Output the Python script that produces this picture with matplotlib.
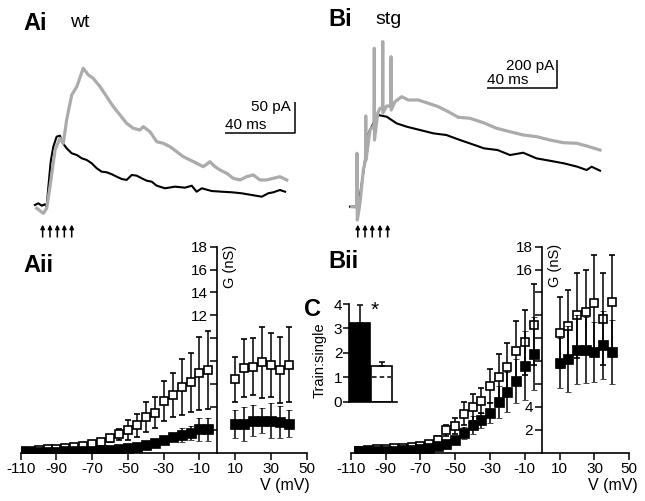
import numpy as np
import matplotlib
matplotlib.use('Agg')
import matplotlib.pyplot as plt

plt.rcParams['font.family'] = ['Liberation Sans', 'DejaVu Sans']

# ---------------- traces (ms, pA) ----------------
# Ai, wt : single stimulus (black) and train (grey)
ai_single_t = [-0.6, 1.3, 3.3, 5.1, 6.1, 7.0, 8.4, 9.9, 11.8, 13.7, 15.0, 17.5, 20.4, 23.3, 26.1,
               29.0, 31.8, 34.7, 37.5, 40.4, 43.3, 46.1, 49.0, 51.8, 54.7, 57.5, 60.4, 63.3, 66.1,
               69.0, 73.7, 79.4, 85.1, 89.0, 91.8, 94.7, 100.4, 106.1, 111.8, 117.5, 123.3, 129.0,
               132.7, 135.6, 139.4, 142.3]
ai_single_i = [0, 2.7, -1.1, 1.1, -2.7, 26.4, 68.5, 92.2, 108.1, 109.6, 99.2, 89.7, 81.8, 79.1, 73.9,
               71.2, 66.0, 58.1, 52.7, 51.7, 48.6, 44.8, 41.1, 39.6, 47.5, 46.4, 42.2, 38.4, 36.9,
               30.5, 26.4, 29.0, 27.4, 30.5, 21.0, 26.4, 22.1, 21.0, 20.1, 18.5, 15.8, 13.1,
               18.5, 20.1, 23.7, 21.0]
ai_train_t = [0.4, 4.2, 6.1, 8.0, 10.9, 13.7, 15.6, 17.5, 20.4, 23.3, 27.0, 29.9, 32.7, 36.6, 40.4,
              44.2, 48.0, 51.8, 55.6, 59.4, 61.3, 65.1, 69.0, 72.7, 76.6, 80.4, 84.2, 88.0, 91.8,
              95.6, 99.4, 102.3, 105.1, 109.0, 112.7, 116.6, 120.4, 124.2, 128.0, 131.8, 135.6,
              139.4, 143.3]
ai_train_i = [-5.2, -13.1, -5.2, 29.0, 87.0, 105.5, 97.6, 134.5, 174.0, 187.1, 216.3, 205.7, 200.4,
              187.1, 171.3, 155.5, 142.4, 129.2, 121.3, 118.7, 123.9, 116.0, 100.1, 97.6, 92.2,
              84.3, 76.4, 71.2, 66.0, 60.6, 68.5, 60.6, 55.4, 50.1, 42.2, 39.6, 44.8, 47.5, 39.6,
              39.6, 42.2, 44.8, 39.6]
ai_stim = [3.8, 8.0, 12.2, 16.2, 20.4]

# Bi, stg
bi_single_t = [0, 4.7, 7.5, 10.4, 13.2, 16.0, 20.8, 26.4, 32.1, 39.6, 47.2, 54.6, 62.3, 67.9, 75.9,
               83.6, 90.6, 98.1, 105.6, 113.3, 121.2, 128.7, 134.0, 136.8, 141.6]
bi_single_i = [0, 0, 238, 523.7, 595, 654.5, 642.3, 595, 571.2, 547.6, 523.7, 511.7, 476.0, 451.9,
               416.6, 404.5, 368.8, 385.3, 345.1, 327.9, 309.3, 285.6, 261.8, 285.6, 257.0]
bi_train_t = [0.96, 3.79, 3.96, 4.13, 5.66, 7.53, 8.78, 8.89, 9.06, 11.33, 13.65, 13.76, 13.87, 15.69,
              16.99, 18.40, 18.52, 18.63, 20.78, 23.10, 23.22, 23.33, 25.48, 29.28, 33.01, 38.68,
              44.34, 50.0, 55.66, 61.33, 67.95, 75.48, 83.07, 90.6, 98.13, 105.72, 113.25, 120.78,
              128.37, 134.03, 141.56]
bi_train_i = [0, -2.1, 381.3, -95.0, 24.3, 262.0, 333.4, 647.6, 333.4, 547.6, 583.3, 1131.0, 476.2,
              666.9, 702.6, 704.7, 1178.1, 669.0, 719.0, 719.0, 1071.0, 690.4, 749.7, 785.4, 761.8,
              761.8, 738.3, 714.0, 678.3, 638.3, 631.2, 599.8, 559.8, 535.5, 511.9, 499.8, 476.0,
              457.0, 452.7, 433.4, 404.8]
bi_stim = [4.4, 8.5, 12.6, 17.0, 21.3]

# ---------------- G-V data (mV, nS) ----------------
aii_v = [-110, -105, -100, -95, -90, -85, -80, -75, -70, -65, -60, -55, -50, -45, -40, -35, -30,
         -25, -20, -15, -10, -5, 10, 15, 20, 25, 30, 35, 40]
aii_train = [0.15, 0.18, 0.22, 0.28, 0.33, 0.4, 0.47, 0.58, 0.75, 0.96, 1.25, 1.6, 2.0, 2.4, 3.1,
             3.5, 4.55, 5.05, 5.75, 6.15, 6.95, 7.2, 6.4, 7.4, 7.5, 7.9, 7.7, 7.2, 7.7]
aii_train_err = [0, 0, 0, 0, 0.05, 0.05, 0.1, 0.1, 0.15, 0.2, 0.3, 0.5, 0.85, 1.0, 1.3, 1.35, 1.75,
                 1.9, 2.45, 2.55, 3.2, 3.4, 2.0, 2.5, 2.5, 3.1, 2.8, 2.9, 3.3]
aii_single = [0.08, 0.08, 0.09, 0.1, 0.1, 0.11, 0.12, 0.14, 0.17, 0.2, 0.24, 0.28, 0.37, 0.51, 0.66,
              0.87, 1.1, 1.35, 1.55, 1.7, 2.05, 2.05, 2.5, 2.5, 2.8, 2.8, 2.8, 2.7, 2.55]
aii_single_err = [0, 0, 0, 0, 0, 0, 0, 0, 0, 0, 0, 0, 0, 0, 0.1, 0.15, 0.25, 0.35, 0.6, 0.6, 1.0,
                  1.0, 1.25, 1.45, 1.35, 1.1, 1.5, 1.4, 1.15]

bii_v = [-105, -100, -95, -90, -85, -80, -75, -70, -65, -60, -55, -50, -45, -40, -35, -30, -25,
         -20, -15, -10, -5, 10, 15, 20, 25, 30, 35, 40]
bii_train = [0.17, 0.23, 0.29, 0.32, 0.38, 0.44, 0.47, 0.58, 0.73, 1.15, 1.95, 2.3, 3.4, 3.95, 4.55,
             5.85, 6.6, 7.5, 8.9, 9.65, 11.2, 10.5, 11.1, 12.0, 12.3, 13.1, 11.7, 13.2]
bii_train_err = [0, 0, 0, 0, 0, 0, 0, 0, 0.1, 0.3, 0.45, 0.7, 1.0, 1.2, 1.1, 1.5, 2.0, 2.1, 2.65,
                 2.85, 3.5, 3.1, 3.1, 3.7, 3.7, 4.2, 4.0, 4.1]
bii_single = [0.12, 0.12, 0.12, 0.15, 0.17, 0.2, 0.23, 0.29, 0.38, 0.58, 0.8, 1.15, 1.72, 2.4, 2.85,
              3.5, 4.4, 5.3, 6.25, 7.6, 8.65, 7.85, 8.2, 9.0, 8.95, 8.8, 9.4, 8.8]
bii_single_err = [0, 0, 0, 0, 0, 0, 0, 0, 0.05, 0.1, 0.2, 0.3, 0.5, 0.8, 0.65, 0.9, 1.4, 1.75, 1.9,
                  3.0, 3.2, 2.2, 2.9, 3.0, 2.9, 2.6, 3.0, 2.8]

# C inset: train/single ratio
c_groups = ['wt', 'stg']
c_ratio = [3.22, 1.46]
c_err = [0.72, 0.18]

W, H = 645, 501
fig = plt.figure(figsize=(W / 100, H / 100), dpi=100)


def box(x0, y0, x1, y1):
    # pixel box (top-left origin) -> figure fraction
    return [x0 / W, 1 - y1 / H, (x1 - x0) / W, (y1 - y0) / H]


def ftext(x, y, s, **kw):
    fig.text(x / W, 1 - y / H, s, **kw)


########## traces ##########
def trace_panel(rect, xlim, ylim, t1, i1, t2, i2, stim, arrow_y, bar):
    ax = fig.add_axes(rect)
    ax.plot(t1, i1, color='black', lw=1.5, zorder=2)
    ax.plot(t2, i2, color='#ababab', lw=2.3, zorder=3)
    ax.set_xlim(*xlim)
    ax.set_ylim(*ylim)
    ax.axis('off')
    for s in stim:
        ax.annotate('', xy=(s, arrow_y[1]), xytext=(s, arrow_y[0]), annotation_clip=False,
                    arrowprops=dict(arrowstyle='-|>', color='black', lw=1.1,
                                    mutation_scale=6, shrinkA=0, shrinkB=0))
    bx, by, bw, bh = bar
    ax.plot([bx, bx + bw, bx + bw], [by, by, by + bh], color='black', lw=1.1,
            solid_capstyle='butt')
    return ax


trace_panel(box(20, 40, 310, 240), (-9.14, 156.57), (-55.4, 261.0),
            ai_single_t, ai_single_i, ai_train_t, ai_train_i, ai_stim, (-50.6, -31.0),
            (108, 113.4, 40, 50))
trace_panel(box(330, 30, 620, 240), (-11.33, 152.89), (-237.8, 1261.6),
            bi_single_t, bi_single_i, bi_train_t, bi_train_i, bi_stim, (-216, -128),
            (77.4, 847.5, 40, 200))

ftext(291, 111, '50 pA', ha='right', va='baseline', fontsize=11)
ftext(225, 129, '40 ms', ha='left', va='baseline', fontsize=11)
ftext(554, 70, '200 pA', ha='right', va='baseline', fontsize=11)
ftext(487, 84, '40 ms', ha='left', va='baseline', fontsize=11)

ftext(23, 30, 'Ai', fontsize=17, fontweight='bold', va='baseline')
ftext(70, 27, 'wt', fontsize=14, va='baseline')
ftext(328, 26, 'Bi', fontsize=17, fontweight='bold', va='baseline')
ftext(375, 24, 'stg', fontsize=14, va='baseline')
ftext(23, 272, 'Aii', fontsize=17, fontweight='bold', va='baseline')
ftext(328, 268, 'Bii', fontsize=17, fontweight='bold', va='baseline')
ftext(304, 316, 'C', fontsize=17, fontweight='bold', va='baseline')


########## G-V plots ##########
def gv_panel(rect, v, tr, tr_err, si, si_err, shown):
    ax = fig.add_axes(rect)
    ax.patch.set_alpha(0)
    ax.errorbar(v, tr, yerr=tr_err, fmt='s', ms=6.3, mfc='white', mec='black', mew=1.2,
                ecolor='black', elinewidth=1.1, capsize=2.3, capthick=1.1, zorder=3)
    ax.errorbar(v, si, yerr=si_err, fmt='s', ms=7.3, mfc='black', mec='black', mew=0.5,
                ecolor='black', elinewidth=1.1, capsize=2.3, capthick=1.1, zorder=4)
    ax.set_xlim(-110, 50)
    ax.set_ylim(0, 18)
    ax.spines['left'].set_position(('data', 0))
    ax.spines['top'].set_visible(False)
    ax.spines['right'].set_visible(False)
    for sp in ('left', 'bottom'):
        ax.spines[sp].set_linewidth(1.2)
    ax.set_xticks(np.arange(-110, 51, 20))
    ax.set_xticklabels([str(x) for x in np.arange(-110, 51, 20)])
    yt = np.arange(2, 19, 2)
    ax.set_yticks(yt)
    ax.set_yticklabels([str(y) if y in shown else '' for y in yt])
    ax.tick_params(direction='out', length=5, width=1.1, labelsize=11, pad=1.5)
    return ax


gv_panel(box(20.7, 246.7, 306.7, 452.7), aii_v, aii_train, aii_train_err,
         aii_single, aii_single_err, [12, 14, 16, 18])
gv_panel(box(350.7, 246.7, 629.3, 452.7), bii_v, bii_train, bii_train_err,
         bii_single, bii_single_err, [2, 4, 16, 18])

ftext(230, 266, 'G (nS)', rotation=90, ha='center', va='center', fontsize=10.5)
ftext(555, 265, 'G (nS)', rotation=90, ha='center', va='center', fontsize=10.5)
ftext(310, 490, 'V (mV)', ha='right', va='baseline', fontsize=11.5)
ftext(638, 490, 'V (mV)', ha='right', va='baseline', fontsize=11.5)

########## C inset ##########
axc = fig.add_axes(box(349.3, 304, 397, 401.7))
axc.patch.set_alpha(0)
xc = np.arange(len(c_groups))
axc.bar(xc, c_ratio, width=0.95, color=['black', 'white'], edgecolor='black', lw=1.2,
        yerr=[[0, 0], c_err], error_kw=dict(ecolor='black', elinewidth=1.1, capsize=2,
                                             capthick=1.1))
axc.hlines(1, 0.55, 1.45, colors='black', linestyles=(0, (3, 2)), lw=1.1)
axc.text(0.69, 3.75, '*', fontsize=15, ha='center', va='center')
axc.set_xlim(-0.5, 1.72)
axc.set_ylim(0, 4)
axc.set_xticks([])
axc.set_yticks([0, 1, 2, 3, 4])
axc.spines['top'].set_visible(False)
axc.spines['right'].set_visible(False)
for sp in ('left', 'bottom'):
    axc.spines[sp].set_linewidth(1.2)
axc.tick_params(direction='out', length=4, width=1.1, labelsize=11, pad=1)
axc.set_ylabel('Train:single', fontsize=10.5)
axc.yaxis.set_label_coords(-0.47, 0.43)

fig.savefig('out.png', dpi=100)
